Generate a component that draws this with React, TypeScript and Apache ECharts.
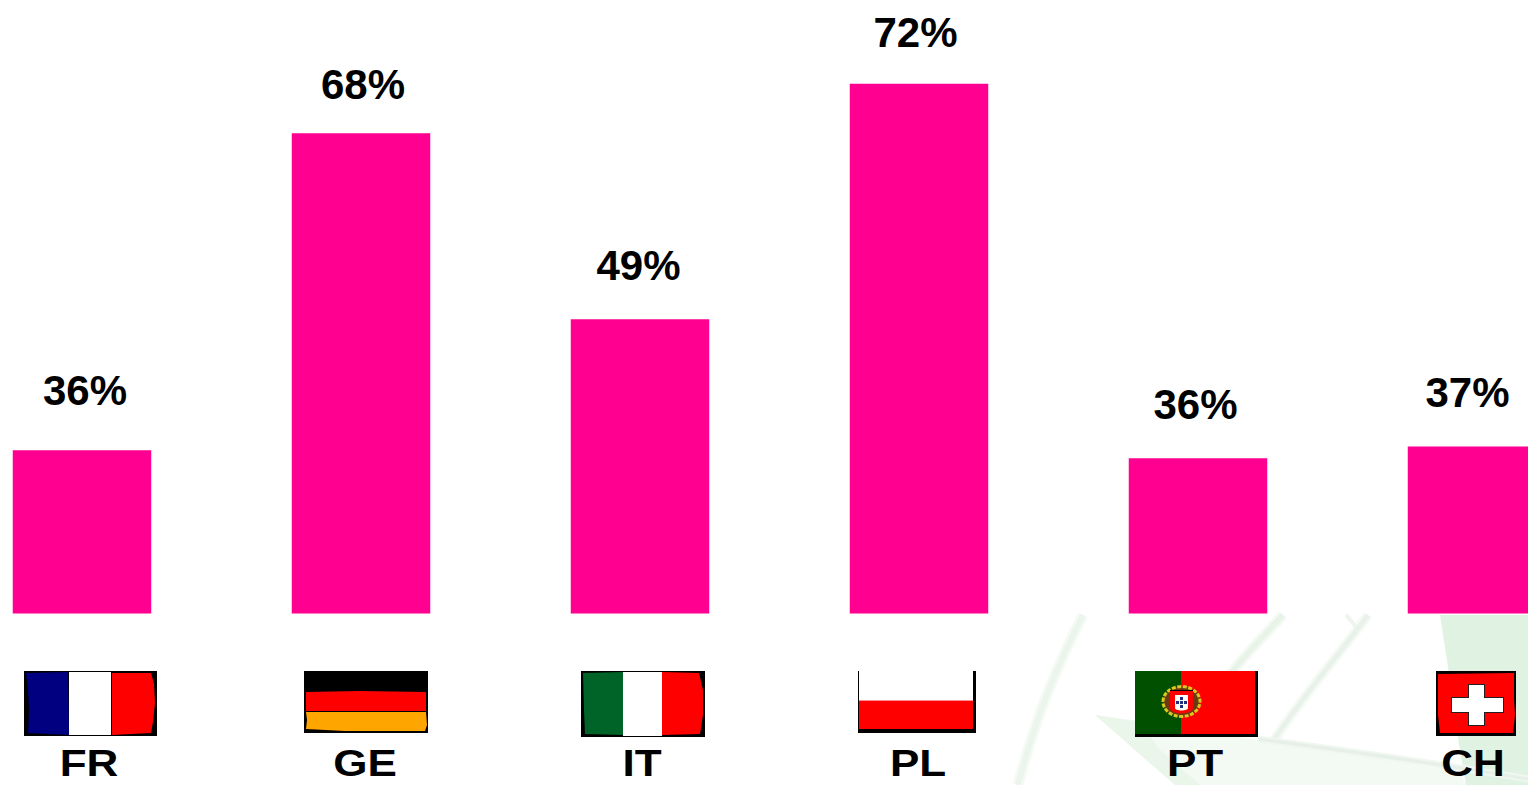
import React, { useEffect, useRef } from "react";
import * as echarts from "echarts";

const countries = ["FR", "GE", "IT", "PL", "PT", "CH"];
// Percentages as printed above each bar
const printedPercent = [36, 68, 49, 72, 36, 37];
// Bar lengths as drawn in the picture (they are not proportional to the printed figures)
const drawnValues = [22.2, 65.3, 40, 72, 21.1, 22.7];
// Printed figures sit a little off-centre of their bars
const labelNudgeX = [3, 2, -1.5, -3.5, -2.5, -9.5];
const labelNudgeY = [-4, 7, 2, 5, 2, 2];
// Country codes below the flags
const codeCentres = [89, 365, 642, 918, 1195, 1473];

const FONT = '"Liberation Sans", Arial, sans-serif';
const PINK = "#ff0090";
const RED = "#ff0000";
const BLACK = "#000000";

const rect = (x: number, y: number, w: number, h: number, fill: string) => ({
  type: "rect", shape: { x, y, width: w, height: h }, style: { fill }, silent: true,
});
const poly = (points: number[][], fill: string) => ({
  type: "polygon", shape: { points }, style: { fill }, silent: true,
});
const stroke = (x1: number, y1: number, cpx1: number, cpy1: number, cpx2: number, cpy2: number, x2: number, y2: number, width: number, color: string) => ({
  type: "bezierCurve",
  shape: { x1, y1, cpx1, cpy1, cpx2, cpy2, x2, y2 },
  style: { stroke: color, lineWidth: width, fill: "none", lineCap: "butt" },
  silent: true,
});

function watermark() {
  return [
    // right-hand band
    poly([[1440, 615], [1528, 615], [1528, 785], [1466, 785], [1459, 745], [1450, 680]], "#e0f3e2"),
    // leaf blade
    poly([[1095, 715], [1180, 726], [1258, 740], [1340, 752], [1460, 772], [1466, 785], [1175, 785]], "#f3faf3"),
    poly([[1095, 715], [1140, 722], [1160, 750], [1200, 785], [1175, 785]], "#ebf6eb"),
    // stems
    stroke(1083, 615, 1055, 670, 1035, 720, 1018, 785, 11, "#f5faf5"),
    stroke(1083, 615, 1055, 670, 1035, 720, 1018, 785, 6, "#ebf5eb"),
    stroke(1283, 615, 1260, 640, 1240, 660, 1226, 680, 11, "#f5faf5"),
    stroke(1283, 615, 1260, 640, 1240, 660, 1226, 680, 6, "#e9f4e9"),
    stroke(1368, 615, 1335, 660, 1300, 700, 1274, 740, 10, "#f5faf5"),
    stroke(1368, 615, 1335, 660, 1300, 700, 1274, 740, 5, "#e8f1ea"),
    stroke(1346, 615, 1350, 619, 1352, 622, 1356, 627, 4, "#edf5ed"),
    stroke(1258, 739, 1340, 750, 1440, 764, 1528, 779, 7, "#f0f7f0"),
    stroke(1258, 739, 1340, 750, 1440, 764, 1528, 779, 3, "#e6efe8"),
  ];
}

function flags() {
  return [
    // France
    rect(24, 671, 133, 65, BLACK),
    poly([[26, 673], [68, 672], [69, 735], [28, 733], [29, 710], [28, 690]], "#000080"),
    rect(69, 672, 42, 63, "#ffffff"),
    poly([[112, 673], [151, 673], [154, 684], [155, 703], [153, 722], [151, 733], [112, 735]], RED),
    // Germany
    rect(304, 671, 124, 62, BLACK),
    poly([[306, 692], [360, 691], [426, 692], [426, 711], [306, 711]], RED),
    poly([[306, 712], [426, 712], [427, 725], [425, 731], [345, 731], [306, 729], [307, 720]], "#ffa500"),
    // Italy
    rect(581, 671, 124, 66, BLACK),
    poly([[583, 673], [623, 672], [624, 735], [585, 734], [584, 710]], "#006428"),
    rect(623, 672, 39, 64, "#ffffff"),
    poly([[662, 672], [699, 673], [703, 690], [703, 715], [700, 734], [662, 735]], RED),
    // Poland
    rect(858, 671, 118, 62, BLACK),
    rect(859, 671, 114, 29, "#ffffff"),
    rect(859, 700, 114, 1, "#ff9090"),
    rect(859, 701, 114, 28, RED),
    // Portugal
    rect(1135, 671, 123, 66, BLACK),
    rect(1135, 671, 46, 63, "#005000"),
    rect(1181, 671, 74, 63, RED),
    {
      type: "ellipse", shape: { cx: 1181.5, cy: 701.5, rx: 18.5, ry: 15 },
      style: { fill: "#6a3a10", stroke: "#d8c820", lineWidth: 3, lineDash: [4, 1.5] }, silent: true,
    },
    rect(1170, 691, 23, 18, RED),
    { type: "ellipse", shape: { cx: 1181.5, cy: 708, rx: 11.5, ry: 5.5 }, style: { fill: RED }, silent: true },
    rect(1175, 695, 13, 13, "#ffffff"),
    { type: "ellipse", shape: { cx: 1181.5, cy: 708, rx: 6.5, ry: 2.5 }, style: { fill: "#ffffff" }, silent: true },
    rect(1180, 697, 3, 3, "#203080"),
    rect(1176, 701, 3, 3, "#203080"),
    rect(1180, 701, 3, 3, "#203080"),
    rect(1184, 701, 3, 3, "#203080"),
    rect(1180, 705, 3, 3, "#203080"),
    rect(1170, 690, 23, 1, BLACK),
    // Switzerland
    rect(1436, 671, 80, 65, BLACK),
    poly([[1438, 674], [1514, 673], [1514, 700], [1515, 715], [1513, 733], [1440, 733], [1438, 715]], RED),
    rect(1468, 684, 17, 42, "#202020"),
    rect(1451, 697, 53, 16, "#202020"),
    rect(1469, 685, 15, 40, "#ffffff"),
    rect(1452, 698, 51, 14, "#ffffff"),
  ];
}

function codes() {
  return countries.map((code, i) => ({
    type: "text",
    x: codeCentres[i],
    y: 763.5,
    scaleX: 1.19,
    silent: true,
    style: {
      text: code,
      fill: BLACK,
      font: `bold 37px ${FONT}`,
      lineHeight: 30,
      textAlign: "center",
      textVerticalAlign: "middle",
    },
  }));
}

export default function App() {
  const ref = useRef<HTMLDivElement>(null);

  useEffect(() => {
    const chart = echarts.init(ref.current!, null, { renderer: "svg" });
    chart.setOption({
      animation: false,
      backgroundColor: "#ffffff",
      grid: { left: -57.5, width: 1674, top: 0, height: 613.5, outerBoundsMode: "none" },
      xAxis: {
        type: "category",
        data: countries,
        axisLine: { show: false },
        axisTick: { show: false },
        axisLabel: { show: false },
      },
      yAxis: {
        type: "value",
        min: 0,
        max: 83.4,
        show: false,
        splitLine: { show: false },
      },
      series: [
        {
          type: "bar",
          barWidth: 138.5,
          itemStyle: { color: PINK },
          data: drawnValues.map((value, i) => ({
            value,
            label: { offset: [labelNudgeX[i], labelNudgeY[i] - 30] },
          })),
          label: {
            show: true,
            position: "top",
            color: BLACK,
            fontFamily: FONT,
            fontWeight: "bold",
            fontSize: 42,
            formatter: (p: any) => `${printedPercent[p.dataIndex]}%`,
          },
        },
      ],
      graphic: { elements: [...watermark(), ...flags(), ...codes()] },
    });
    return () => chart.dispose();
  }, []);

  return <div ref={ref} style={{ position: "absolute", left: 0, top: 0, width: 1528, height: 785 }} />;
}
